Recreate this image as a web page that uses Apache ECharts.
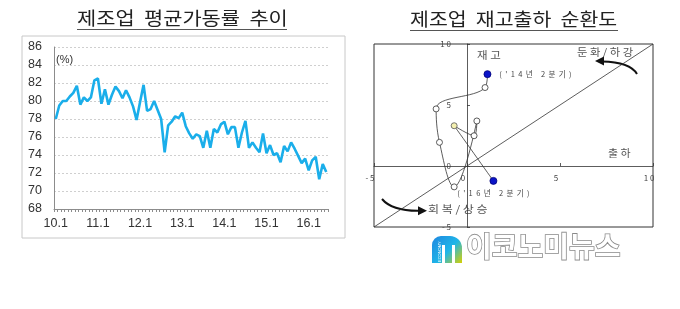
<!DOCTYPE html>
<html><head><meta charset="utf-8">
<script src="https://cdn.jsdelivr.net/npm/echarts@6/dist/echarts.min.js"></script>
<style>html,body{margin:0;padding:0;background:#fff}#c{width:680px;height:309px}</style>
</head><body><div id="c"></div>
<script>
// ---- Left chart: manufacturing average operating rate (%) ----
const years = ['10','11','12','13','14','15','16'];
const lastYearMonths = 6;
const categories = [];
years.forEach((y, i) => {
  const n = i === years.length - 1 ? lastYearMonths : 12;
  for (let m = 1; m <= n; m++) categories.push(y + '.' + m);
});
const utilization = [
  78.0, 79.5, 80.0, 80.0, 80.5, 80.9, 81.7, 79.6, 80.4, 80.0, 80.4, 82.3,
  82.5, 79.7, 81.3, 79.6, 80.7, 81.6, 81.1, 80.3, 81.2, 80.4, 79.4, 77.9,
  79.9, 81.8, 78.9, 79.1, 80.0, 79.0, 78.0, 74.3, 77.3, 77.7, 78.3, 78.1,
  78.7, 77.2, 76.4, 75.8, 76.3, 76.1, 74.8, 76.7, 74.8, 76.9, 76.5, 77.4,
  77.7, 76.3, 77.1, 77.1, 74.8, 76.5, 77.8, 74.8, 75.4, 74.8, 74.3, 76.4,
  74.2, 75.1, 74.0, 74.2, 73.2, 75.0, 74.4, 75.4, 74.7, 73.9, 73.1, 73.6,
  72.3, 73.4, 73.8, 71.3, 73.0, 72.1
];
const utilMin = 68, utilMax = 86, utilStep = 2;

// ---- Right chart: inventory-shipment cycle ('14 Q2 -> '16 Q2) ----
const quarters = ['14.2Q','14.3Q','14.4Q','15.1Q','15.2Q','15.3Q','15.4Q','16.1Q','16.2Q'];
const shipmentChange = [1.1, 0.97, -1.66, -1.48, -0.69, 0.53, 0.38, -0.69, 1.42];
const inventoryChange = [7.53, 6.43, 4.68, 1.94, -1.71, 3.69, 2.48, 3.3, -1.22];
const cycleMin = -5, cycleMax = 10, cycleStep = 5;
const cycleTicks = [-5, 0, 5, 10];
const diagonal = [[-5, -5], [10, 10]];

const spaced = s => String(s).split('').join(' ');
const KR = '"Noto Sans CJK KR"';

const cycleData = quarters.map((q, i) => {
  const item = { name: q, value: [shipmentChange[i], inventoryChange[i]] };
  if (i === 0 || i === quarters.length - 1) {
    item.symbolSize = 7;
    item.itemStyle = { color: '#0a14c8', borderColor: '#00007a', borderWidth: 0.8 };
    item.label = {
      show: true,
      position: i === 0 ? 'right' : 'bottom',
      distance: i === 0 ? 8 : 5,
      fontSize: 7.5, color: '#444', fontFamily: 'Noto Sans CJK KR',
      formatter: i === 0 ? "(  '  1  4  년     2  분  기  )" : "(  '  1  6  년     2  분  기  )"
    };
  } else if (i === 7) {
    item.itemStyle = { color: '#f4f0b0', borderColor: '#555', borderWidth: 0.8 };
  }
  return item;
});

const chart = echarts.init(document.getElementById('c'), null, { renderer: 'canvas' });
chart.setOption({
  animation: false,
  backgroundColor: '#fff',
  grid: [
    { left: 54, top: 47, width: 274, height: 162 },
    { left: 374, top: 44, width: 279, height: 183, show: true, borderColor: '#333', borderWidth: 1 }
  ],
  xAxis: [
    { gridIndex: 0, type: 'category', data: categories, boundaryGap: true,
      axisLine: { lineStyle: { color: '#8c8c8c' } },
      axisTick: { show: true, interval: 0, length: 3, lineStyle: { color: '#8c8c8c' } },
      axisLabel: { interval: 11, color: '#333', fontSize: 12.5, fontFamily: 'Liberation Sans', margin: 8 },
      splitLine: { show: false } },
    { gridIndex: 1, type: 'value', min: cycleMin, max: cycleMax, interval: cycleStep,
      axisLine: { onZero: true, lineStyle: { color: '#333', width: 0.8 } },
      axisTick: { inside: true, length: 3, lineStyle: { color: '#333', width: 0.8 } },
      axisLabel: { show: false },
      splitLine: { show: false } }
  ],
  yAxis: [
    { gridIndex: 0, type: 'value', min: utilMin, max: utilMax, interval: utilStep,
      axisLine: { show: true, lineStyle: { color: '#8c8c8c' } },
      axisTick: { show: false },
      axisLabel: { color: '#333', fontSize: 12.5, fontFamily: 'Liberation Sans', margin: 12 },
      splitLine: { lineStyle: { color: '#cfcfcf', type: [2, 2] } } },
    { gridIndex: 1, type: 'value', min: cycleMin, max: cycleMax, interval: cycleStep,
      axisLine: { show: true, onZero: true, lineStyle: { color: '#333', width: 0.8 } },
      axisTick: { show: true, inside: true, length: 3, lineStyle: { color: '#333', width: 0.8 } },
      axisLabel: { show: false },
      splitLine: { show: false } }
  ],
  series: [
    { type: 'line', xAxisIndex: 0, yAxisIndex: 0, data: utilization, symbol: 'none',
      lineStyle: { color: '#1aaeea', width: 2.6 } },
    { type: 'line', xAxisIndex: 1, yAxisIndex: 1, data: diagonal, symbol: 'none',
      lineStyle: { color: '#333', width: 0.8 }, z: 2 },
    { type: 'line', xAxisIndex: 1, yAxisIndex: 1, data: cycleData, smooth: 0.4,
      symbol: 'circle', symbolSize: 6,
      lineStyle: { color: '#333', width: 0.8 },
      itemStyle: { color: '#fff', borderColor: '#333', borderWidth: 0.8 }, z: 3 }
  ]
});

// Axis labels of the cycle chart, placed at the axis through the origin using the library scale
const g1 = { xAxisIndex: 1, yAxisIndex: 1 };
const axisTexts = [];
cycleTicks.forEach(v => {
  const px = chart.convertToPixel(g1, [v, 0]);
  axisTexts.push({ type: 'text', x: px[0] - 4, y: px[1] + 8,
    style: { text: spaced(v), font: '8px ' + KR, fill: '#444', align: 'center', verticalAlign: 'top' } });
  const py = chart.convertToPixel(g1, [0, v]);
  axisTexts.push({ type: 'text', x: py[0] - 16, y: py[1],
    style: { text: spaced(v), font: '8px ' + KR, fill: '#444', align: 'right', verticalAlign: 'middle' } });
});

const ann = (text, x, y, sx) => ({ type: 'text', x: x, y: y, scaleX: sx || 1,
  style: { text: text, font: '10px ' + KR, fill: '#555', verticalAlign: 'top' } });

chart.setOption({
  graphic: [
    { type: 'rect', shape: { x: 22, y: 36, width: 323, height: 202 }, style: { fill: 'none', stroke: '#c8c8c8', lineWidth: 1 }, silent: true },
    { type: 'text', x: 77, y: 9, scaleX: 1.16, style: { text: '제조업  평균가동률  추이', font: '18px ' + KR, fill: '#222', verticalAlign: 'top' } },
    { type: 'line', shape: { x1: 77, y1: 29.5, x2: 287, y2: 29.5 }, style: { stroke: '#555', lineWidth: 1 } },
    { type: 'text', x: 410, y: 10, scaleX: 1.14, style: { text: '제조업  재고출하  순환도', font: '18px ' + KR, fill: '#222', verticalAlign: 'top' } },
    { type: 'line', shape: { x1: 410, y1: 30.5, x2: 618, y2: 30.5 }, style: { stroke: '#555', lineWidth: 1 } },
    { type: 'text', x: 56, y: 54, style: { text: '(%)', font: '11px "Liberation Sans"', fill: '#333', verticalAlign: 'top' } },
    ann('재 고', 477, 50, 1.15),
    ann('둔 화 / 하 강', 577, 47, 1.13),
    ann('출 하', 608, 148, 1.1),
    ann('회 복 / 상 승', 428, 204, 1.2),
    { type: 'bezierCurve', shape: { x1: 637, y1: 74, cpx1: 630, cpy1: 62, x2: 602, y2: 61.5 }, style: { stroke: '#111', lineWidth: 2, fill: 'none' } },
    { type: 'polygon', shape: { points: [[595, 61], [604, 56.5], [604, 65.5]] }, style: { fill: '#111' } },
    { type: 'bezierCurve', shape: { x1: 382, y1: 199, cpx1: 392, cpy1: 211, x2: 419, y2: 210.7 }, style: { stroke: '#111', lineWidth: 2, fill: 'none' } },
    { type: 'polygon', shape: { points: [[427, 210.7], [418, 206.2], [418, 215.2]] }, style: { fill: '#111' } },
    { type: 'rect', shape: { x: 432, y: 236, width: 30, height: 27, r: [9, 12, 0, 0] },
      style: { fill: { type: 'linear', x: 0, y: 0, x2: 1, y2: 1, colorStops: [
        { offset: 0, color: '#1f86e0' }, { offset: 0.55, color: '#1fb6e8' }, { offset: 1, color: '#d8d000' } ] } } },
    { type: 'rect', shape: { x: 442, y: 245, width: 3, height: 18 }, style: { fill: '#fff' } },
    { type: 'rect', shape: { x: 452, y: 245, width: 3, height: 18 }, style: { fill: '#fff' } },
    { type: 'text', x: 438, y: 262, rotation: Math.PI / 2, style: { text: 'ECONOMY', font: '4px "Liberation Sans"', fill: '#fff' } },
    { type: 'text', x: 466, y: 232, style: { text: '이코노미뉴스', font: 'bold 28px ' + KR, fill: '#fff', stroke: '#8a8a8a', lineWidth: 1.6, verticalAlign: 'top' } }
  ].concat(axisTexts)
});
</script></body></html>
